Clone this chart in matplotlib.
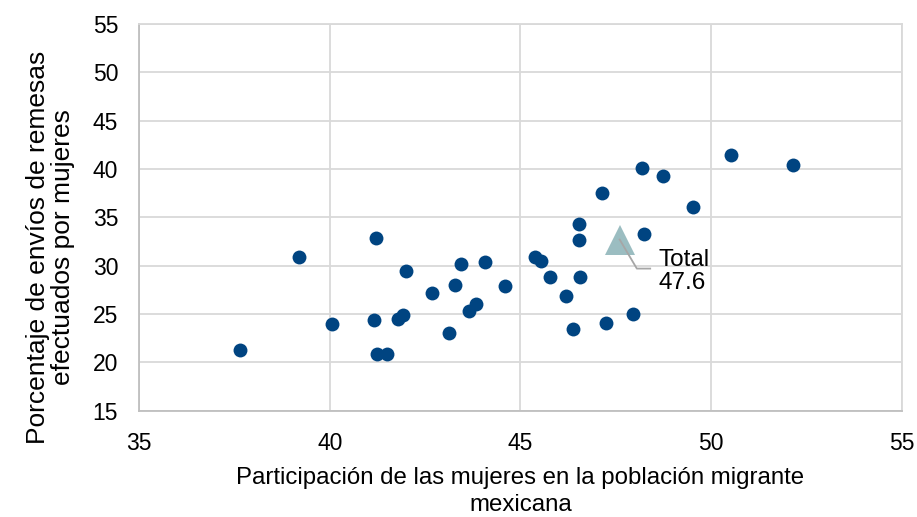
import matplotlib.pyplot as plt

plt.rcParams['font.family'] = ['Liberation Sans', 'DejaVu Sans']

# participacion de mujeres (%) vs porcentaje de envios por mujeres (%)
mujeres_part = [37.64, 39.19, 41.20, 40.05, 41.17, 41.23, 41.49, 41.79, 41.91,
                42.00, 42.69, 43.12, 43.29, 43.43, 43.65, 43.83, 44.07, 44.59,
                45.38, 45.53, 45.77, 46.57, 46.19, 46.37, 47.23, 47.96, 46.53,
                46.53, 48.24, 47.13, 49.53, 48.18, 48.73, 50.52, 52.14]
envios_mujeres = [21.3, 30.9, 32.9, 24.0, 24.4, 20.9, 20.9, 24.5, 24.9,
                  29.5, 27.2, 23.0, 28.0, 30.2, 25.35, 26.05, 30.35, 27.9,
                  30.9, 30.5, 28.8, 28.8, 26.9, 23.4, 24.1, 25.0, 34.3,
                  32.7, 33.3, 37.5, 36.05, 40.1, 39.3, 41.5, 40.4]
total_x = 47.6
total_y = 32.7
total_label = 'Total\n47.6'

fig = plt.figure(figsize=(9.17, 5.17), dpi=100)
ax = fig.add_axes([0.1516, 0.2056, 0.832, 0.748])

ax.plot(mujeres_part, envios_mujeres, 'o', color='#004481', markersize=10,
        markeredgewidth=0, zorder=3)
ax.plot([total_x], [total_y], '^', color='#9BBDC1', markersize=22,
        markeredgewidth=0, zorder=3)

# leader line from the triangle to the label
ax.plot([total_x, total_x + 0.45, total_x + 0.8],
        [total_y, total_y - 3.0, total_y - 3.0],
        color='#A6A6A6', lw=1.3, zorder=4)
ax.text(total_x + 1.03, total_y - 3.3, total_label, fontsize=17.5,
        ha='left', va='center', linespacing=1.1, zorder=5)

ax.set_xlim(35, 55)
ax.set_ylim(15, 55)
ax.set_xticks(range(35, 56, 5))
ax.set_yticks(range(15, 56, 5))
ax.grid(True, color='#D9D9D9', linewidth=1.3)
ax.set_axisbelow(True)
ax.tick_params(length=0, labelsize=16.5, pad=15)
for s in ['top', 'right']:
    ax.spines[s].set_color('#D9D9D9')
    ax.spines[s].set_linewidth(1.3)
for s in ['left', 'bottom']:
    ax.spines[s].set_color('#BFBFBF')
    ax.spines[s].set_linewidth(1.3)

ax.set_xlabel('Participación de las mujeres en la población migrante\nmexicana',
              fontsize=17.3, labelpad=9, linespacing=1.3)
ax.set_ylabel('Porcentaje de envíos de remesas\nefectuados por mujeres',
              fontsize=19, linespacing=1.05)
ax.yaxis.set_label_coords(-0.084, 0.423)

fig.savefig('out.png', dpi=100)
